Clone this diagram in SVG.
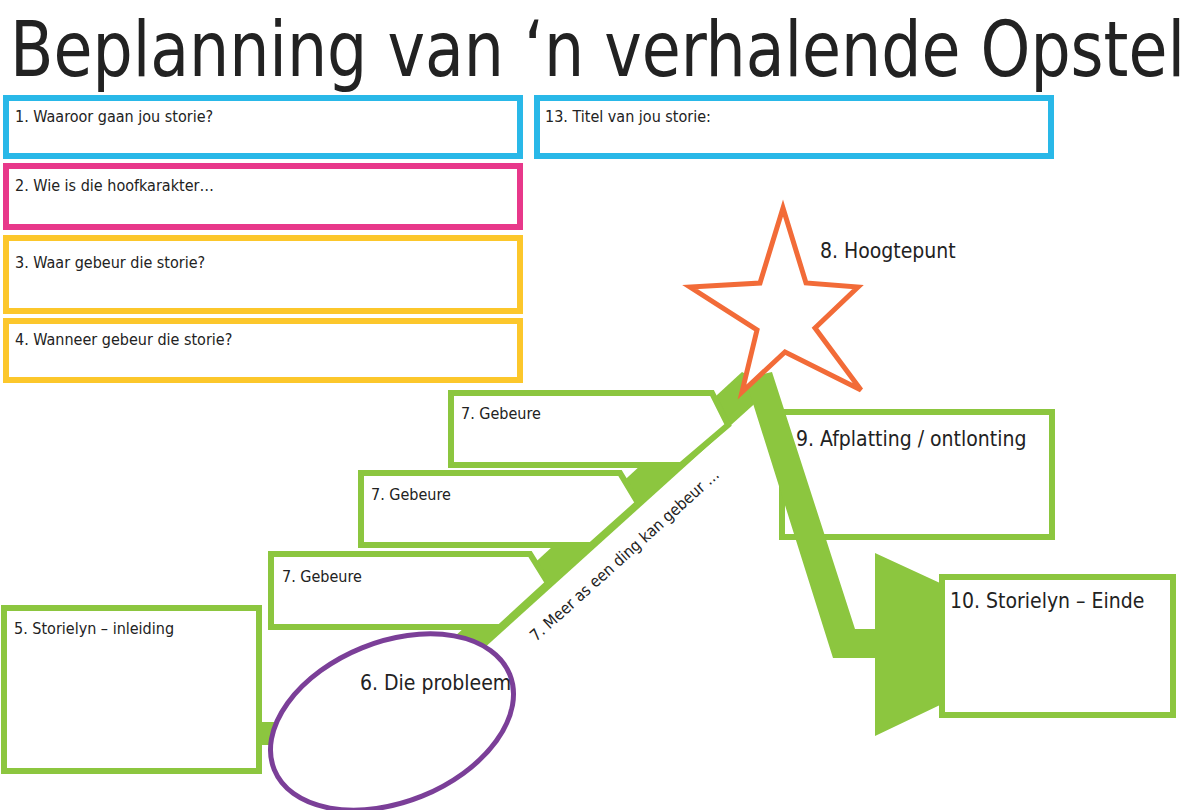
<svg xmlns="http://www.w3.org/2000/svg" width="1200" height="810" viewBox="0 0 1200 810">
<style>
text{font-family:"DejaVu Sans Condensed","DejaVu Sans","Liberation Sans",sans-serif;fill:#222}
.t{font-size:16px}
.b{font-size:21px}
.g{fill:#fff;stroke:#8cc63f;stroke-width:6}
.gf{fill:#8cc63f}
</style>
<rect width="1200" height="810" fill="#fff"/>
<text x="10" y="76" font-size="76" textLength="1175" lengthAdjust="spacingAndGlyphs">Beplanning van ‘n verhalende Opstel</text>
<g id="box1"><rect x="6" y="98" width="514" height="58" fill="#fff" stroke="#29b8e8" stroke-width="6"/><text class="t" x="15" y="122">1. Waaroor gaan jou storie?</text></g>
<g id="box13"><rect x="537" y="98" width="514" height="58" fill="#fff" stroke="#29b8e8" stroke-width="6"/><text class="t" x="545" y="122">13. Titel van jou storie:</text></g>
<g id="box2"><rect x="6" y="166" width="514" height="61" fill="#fff" stroke="#e8388a" stroke-width="6"/><text class="t" x="15" y="191">2. Wie is die hoofkarakter…</text></g>
<g id="box3"><rect x="6" y="238" width="514" height="73" fill="#fff" stroke="#fcc72b" stroke-width="6"/><text class="t" x="15" y="268">3. Waar gebeur die storie?</text></g>
<g id="box4"><rect x="6" y="321" width="514" height="59" fill="#fff" stroke="#fcc72b" stroke-width="6"/><text class="t" x="15" y="345">4. Wanneer gebeur die storie?</text></g>
<g id="box9"><rect class="g" x="782" y="412" width="270" height="125"/><text class="b" x="796" y="446">9. Afplatting / ontlonting</text></g>
<g id="connectors">
<polygon class="gf" points="440,650 482,650 772,388 742,372"/>
<polygon class="gf" points="745,378 772,372 855,629 875,629 875,553 940,583 940,705 875,736 875,658 833,658"/>
<polygon class="gf" points="258,722 275,722 278,745 258,745"/>
</g>
<g id="box10"><rect class="g" x="942" y="577" width="231" height="138"/><text class="b" x="950" y="608">10. Storielyn – Einde</text></g>
<g id="boxA"><polygon class="g" points="451,393 712,393 728,425 681,465 451,465"/><text class="t" x="461" y="419">7. Gebeure</text></g>
<g id="boxB"><polygon class="g" points="361,473 620,473 638,503 591,545 361,545"/><text class="t" x="371" y="500">7. Gebeure</text></g>
<g id="boxC"><polygon class="g" points="271,554 530,554 548,583 500,627 271,627"/><text class="t" x="282" y="582">7. Gebeure</text></g>
<text class="t" transform="translate(536,642) rotate(-42)" font-size="17">7. Meer as een ding kan gebeur …</text>
<g id="star"><polygon points="783,208 806,283 858,287 815,328 861,390 785,352 742,392 757,330 690,287 760,283" fill="#fff" stroke="#f26b38" stroke-width="5"/><text class="b" x="820" y="258">8. Hoogtepunt</text></g>
<g id="box5"><rect class="g" x="4" y="608" width="255" height="163"/><text class="t" x="14" y="634">5. Storielyn – inleiding</text></g>
<g id="ellipse"><ellipse cx="392" cy="722" rx="127" ry="80" transform="rotate(-22 392 722)" fill="#fff" stroke="#7b3f98" stroke-width="5"/><text class="b" x="360" y="690" font-size="20">6. Die probleem</text></g>
</svg>
